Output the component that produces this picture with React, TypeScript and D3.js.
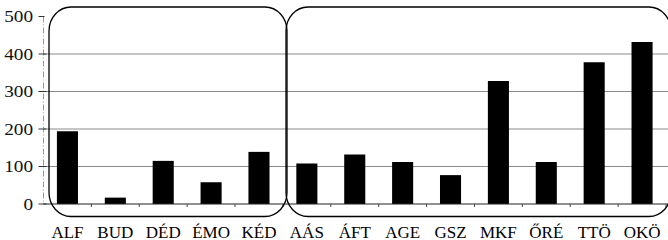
import React from "react";
import * as d3 from "d3";

const categories = ["ALF", "BUD", "DÉD", "ÉMO", "KÉD", "AÁS", "ÁFT", "AGE", "GSZ", "MKF", "ŐRÉ", "TTÖ", "OKÖ"];
const values = [194, 17, 115, 58, 139, 108, 132, 112, 77, 328, 112, 378, 432];
const yTicks = [0, 100, 200, 300, 400, 500];

const W = 668;
const H = 240;
const left = 43.5;
const right = 666;
const y0 = 204;
const yTop = 16.5;
const serif = "'Liberation Serif', 'Times New Roman', serif";

export default function App() {
  const x = d3.scaleBand<string>().domain(categories).range([left, right]).paddingInner(0.56).paddingOuter(0.28);
  const y = d3.scaleLinear().domain([0, 500]).range([y0, yTop]);
  const step = x.step();
  const bandStart = (i: number) => left + i * step;

  const rectTop = 7;
  const rectBottom = 216.5;
  const boxes = [
    { x1: 49, x2: 287 },
    { x1: 286, x2: 671 },
  ];

  return (
    <svg width={W} height={H} style={{ position: "absolute", left: 0, top: 0, background: "#fff" }}>
      {yTicks.filter((t) => t > 0 && t < 500).map((t) => (
        <line key={t} x1={left} x2={W} y1={y(t)} y2={y(t)} stroke="#8a8a8a" strokeWidth={1.2} />
      ))}
      <line x1={left} x2={left} y1={y(500)} y2={y0} stroke="#999" strokeWidth={1} strokeDasharray="6,2,1,2" />
      {yTicks.map((t) => (
        <g key={"t" + t}>
          <line x1={left - 5} x2={left + (t === 500 ? 1 : 3)} y1={y(t)} y2={y(t)} stroke="#333" strokeWidth={1} />
          <text
            x={33}
            y={y(t)}
            dy="0.36em"
            textAnchor="end"
            style={{ fontFamily: serif, fontSize: 16 }}
            fill="#111"
            transform={`translate(33,0) scale(1.2,1) translate(-33,0)`}
          >
            {t}
          </text>
        </g>
      ))}
      {categories.map((c, i) => (
        <rect key={c} x={x(c)} width={x.bandwidth()} y={y(values[i])} height={y0 - y(values[i])} fill="#000" />
      ))}
      <line x1={left} x2={W} y1={y0} y2={y0} stroke="#222" strokeWidth={1.2} />
      {categories.map((c, i) => (
        <line key={"bt" + c} x1={bandStart(i + 1)} x2={bandStart(i + 1)} y1={y0} y2={y0 + 3} stroke="#444" strokeWidth={1} />
      ))}
      {boxes.map((b, i) => (
        <rect
          key={"box" + i}
          x={b.x1}
          y={rectTop}
          width={b.x2 - b.x1}
          height={rectBottom - rectTop}
          rx={22}
          ry={24}
          fill="none"
          stroke="#000"
          strokeWidth={1.3}
        />
      ))}
      {categories.map((c) => (
        <text
          key={"l" + c}
          x={(x(c) ?? 0) + x.bandwidth() / 2}
          y={237.5}
          textAnchor="middle"
          style={{ fontFamily: serif, fontSize: 17 }}
          fill="#000"
        >
          {c}
        </text>
      ))}
    </svg>
  );
}
